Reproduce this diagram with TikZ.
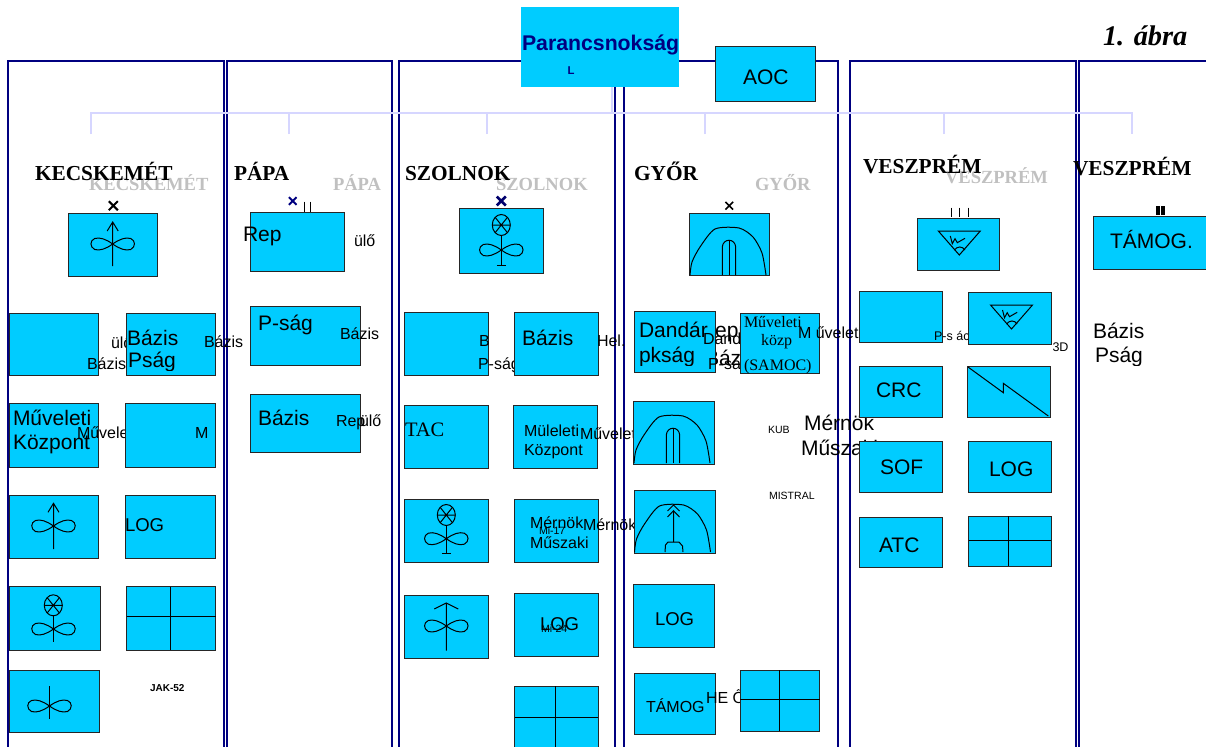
\documentclass[tikz,border=0pt]{standalone}
\usepackage{fontspec}
\setmainfont{Liberation Sans}
\newfontfamily\timesfont{Liberation Serif}
\definecolor{unitblue}{RGB}{0,204,255}
\definecolor{framenavy}{RGB}{0,0,128}
\definecolor{treelilac}{RGB}{214,214,255}
\definecolor{shadowgray}{RGB}{192,192,192}
\tikzset{every picture/.style={line width=0.75pt}}
\tikzset{
  unitbox/.style={draw=black!85,fill=unitblue},
  framebox/.style={draw=framenavy,line width=1.5pt},
  treeline/.style={draw=treelilac,line width=1pt},
  lbl/.style={anchor=base west,inner sep=0pt,outer sep=0pt},
  txtbig/.style={lbl,font=\fontsize{15.75}{15.75}\selectfont},
  txtlog/.style={lbl,font=\fontsize{13.9}{13.9}\selectfont},
  txtmid/.style={lbl,font=\fontsize{12}{12}\selectfont},
  txttiny/.style={lbl,font=\fontsize{9.4}{9.4}\selectfont},
  txtsmall/.style={lbl,font=\fontsize{7.9}{7.9}\selectfont},
  serifmid/.style={lbl,font=\timesfont\fontsize{12}{12}\selectfont},
  titlebold/.style={lbl,font=\timesfont\bfseries\fontsize{16}{16}\selectfont},
  titlegray/.style={lbl,text=shadowgray,font=\timesfont\bfseries\fontsize{13.9}{13.9}\selectfont},
  pics/blades/.style={code={
    \draw (0,0) .. controls (-7,5) and (-13,7) .. (-18,5.5) .. controls (-23,3.5) and (-23,-3) .. (-18,-5.5) .. controls (-13,-7) and (-7,-5) .. (0,0)
      .. controls (7,5) and (13,7) .. (18,5.5) .. controls (23,3.5) and (23,-3) .. (18,-5.5) .. controls (13,-7) and (7,-5) .. (0,0) ;
  }},
  pics/xcircle/.style={code={
    \draw (0,0) ellipse (9 and 10.5) ;
    \draw (-6,-7.5) -- (6,7.5) (6,-7.5) -- (-6,7.5) (-9,0) -- (9,0) ;
  }},
  pics/domeshell/.style={code={
    \draw plot[smooth,tension=0.45] coordinates {(-39,0) (-37,13) (-29,28) (-14,46) (10,47) (24,38) (33,22) (37,0)} ;
  }},
  pics/pillar/.style={code={
    \draw (-6.7,0) -- (-6.7,28) .. controls (-6,37) and (6,37) .. (6.7,28) -- (6.7,0) ;
    \draw (0,0) -- (0,35) ;
  }},
  pics/radar/.style={code={
    \draw (-21,0) -- (21,0) -- (0,-24) -- cycle ;
    \draw (-5,-19) .. controls (-2,-15) and (3,-15) .. (5.7,-19) ;
    \draw (-9,-5) -- (-7,-12.7) -- (-4.3,-7.7) -- (-2,-11.7) -- (5.7,-7.3) ;
  }},
  pics/xmark/.style={code={
    \draw (-4.5,-4.5) -- (4.5,4.5) (4.5,-4.5) -- (-4.5,4.5) ;
  }}
}

\begin{document}
\begin{tikzpicture}[x=0.75pt,y=0.75pt,yscale=-1,xscale=1]
\path[use as bounding box] (0,0) rectangle (1206,746);

%Frames
\draw [framebox] (8,760) -- (8,61) -- (224,61) -- (224,760) ;
\draw [framebox] (226.5,760) -- (226.5,61) -- (392,61) -- (392,760) ;
\draw [framebox] (399,760) -- (399,61) -- (614.5,61) -- (614.5,760) ;
\draw [framebox] (623.5,760) -- (623.5,61) -- (838,61) -- (838,760) ;
\draw [framebox] (850,760) -- (850,61) -- (1076,61) -- (1076,760) ;
\draw [framebox] (1079,760) -- (1079,61) -- (1220,61) ;

%Command tree
\coordinate (trunktop) at (612,87);
\coordinate (trunkfoot) at (612,113);
\coordinate (dropkec) at (91,134);
\coordinate (droppap) at (289,134);
\coordinate (dropszo) at (487,134);
\coordinate (dropgyo) at (705,134);
\coordinate (dropves) at (944,134);
\coordinate (dropsup) at (1132,134);
\draw [treeline] (trunktop) -- (trunkfoot) ;
\draw [treeline] (dropkec) -- (dropkec |- trunkfoot) -- (dropsup |- trunkfoot) -- (dropsup) ;
\draw [treeline] (droppap) -- (droppap |- trunkfoot) ;
\draw [treeline] (dropszo) -- (dropszo |- trunkfoot) ;
\draw [treeline] (dropgyo) -- (dropgyo |- trunkfoot) ;
\draw [treeline] (dropves) -- (dropves |- trunkfoot) ;

%Top boxes
\fill [unitblue] (521,7) rectangle (679,87) ;
\draw [unitbox] (715,46.5) rectangle (815,101.5) ;

% Text Node
\draw (522,50) node (cmdname) [lbl,text=framenavy,font=\bfseries\fontsize{15.95}{15.95}\selectfont] {Parancsnokság};
% Text Node
\draw (567.5,74) node (cmdrank) [lbl,text=framenavy,font=\bfseries\fontsize{8.5}{8.5}\selectfont] {L};
% Text Node
\draw (743,84) node (aocname) [txtbig] {AOC};
% Text Node
\draw (1103,45) node (figname) [lbl,font=\timesfont\bfseries\itshape\fontsize{21.3}{21.3}\selectfont] {1. ábra};

%Kecskemet column
\draw (89,190) node (kecgray) [titlegray] {KECSKEMÉT};
\draw (35,180) node (kectitle) [titlebold] {KECSKEMÉT};
\draw [line width=1.5pt] (113.3,205.7) pic {xmark} ;
\draw [unitbox] (68,213) rectangle (157,276) ;
\draw (112.7,244) pic {blades} ;
\draw (112.7,222) -- (112.7,266) (107.2,231) -- (112.7,222) -- (118.2,231) ;

\draw [unitbox] (9,313.3) rectangle (98,375) ;
\draw [unitbox] (9,403) rectangle (98,467) ;
\draw (111,348) node (kecpilot) [txtmid] {ülő};
\draw (87,369) node (kecbase) [txtmid] {Bázis};
\draw (77,438) node (kecops) [txtmid] {Műveleti};
\draw [unitbox] (126.5,313.3) rectangle (215.5,375) ;
\draw [unitbox] (125.5,403) rectangle (215.5,467) ;
\draw (127,345) node (kecbasebig) [txtbig] {Bázis};
\begin{scope}
\clip (120,350) rectangle (200,370);
\draw (128,367) node (kecsqd) [txtbig] {Pság};
\end{scope}
\draw (204,347) node (kecbaseb) [txtmid] {Bázis};
\draw (13,425) node (kecopsa) [txtbig] {Műveleti};
\draw (13,449) node (kecopsb) [txtbig] {Központ};
\draw (195,438) node (kecmm) [txtmid] {M};

\draw [unitbox] (9,495) rectangle (98,558) ;
\draw (53.5,526) pic {blades} ;
\draw (53.5,503.3) -- (53.5,549) (48,512.3) -- (53.5,503.3) -- (59,512.3) ;
\draw [unitbox] (125.5,495) rectangle (215.5,558) ;
\draw (125,531) node (keclog) [txtlog] {LOG};

\draw [unitbox] (9,586.5) rectangle (100.5,650) ;
\draw (53.3,605.3) pic {xcircle} ;
\draw (53.3,615) -- (53.3,642) ;
\draw (53.5,629) pic {blades} ;
\draw [unitbox] (126.5,586.5) rectangle (215.5,650) ;
\draw (170,586.5) -- (170,650) (126.5,616.5) -- (215.5,616.5) ;

\draw [unitbox] (9,670.5) rectangle (99,732) ;
\draw (49.5,706) pic {blades} ;
\draw (49.5,686) -- (49.5,719) ;
\draw (150,691) node (kecjak) [lbl,font=\bfseries\fontsize{7.5}{7.5}\selectfont] {JAK-52};

%Papa column
\draw (333,190) node (papgray) [titlegray] {PÁPA};
\draw (234,180) node (paptitle) [titlebold] {PÁPA};
\draw [draw=framenavy,line width=1.5pt] (292.7,201) pic[scale=0.85] {xmark} ;
\draw (304,201.7) -- (304,212) (310,201.7) -- (310,212) ;
\draw [unitbox] (250.5,212.5) rectangle (344,271.5) ;
\draw (243,241) node (paprep) [txtbig] {Rep};
\draw (354,246) node (pappilot) [txtmid] {ülő};
\draw [unitbox] (250.5,306.5) rectangle (360,365.5) ;
\draw (258,330) node (papsqd) [txtbig] {P-ság};
\draw (340,339) node (papbase) [txtmid] {Bázis};
\draw [unitbox] (250.5,394) rectangle (360,452.5) ;
\draw (258,425) node (papbasebig) [txtbig] {Bázis};
\draw (336,426) node (paprepb) [txtmid] {Rep};
\draw (360,426) node (pappilotb) [txtmid] {ülő};

%Szolnok column
\draw (496,190) node (szogray) [titlegray] {SZOLNOK};
\draw (405,180) node (szotitle) [titlebold] {SZOLNOK};
\draw [draw=framenavy!85!black,line width=2pt] (501.3,201) pic {xmark} ;
\draw [unitbox] (459,208.5) rectangle (543.5,273.5) ;
\draw (501.3,225) pic {xcircle} ;
\draw (501.3,235.5) -- (501.3,265) (496.8,265) -- (505.8,265) ;
\draw (501.3,250) pic {blades} ;

\draw [unitbox] (404.5,312) rectangle (488,375) ;
\draw (479,346) node (szob) [txtmid] {B};
\draw (478,369) node (szosqd) [txtmid] {P-ság};
\draw [unitbox] (514.5,312) rectangle (598,375) ;
\draw (522,345) node (szobase) [txtbig] {Bázis};
\draw (597,346) node (szohel) [txtmid] {Hel.};

\draw [unitbox] (404.5,405) rectangle (488,468) ;
\draw (405,436) node (szotac) [lbl,font=\timesfont\fontsize{15.4}{15.4}\selectfont] {TAC};
\draw [unitbox] (513.5,405) rectangle (597,468) ;
\draw (524,436) node (szoopsa) [txtmid] {Müleleti};
\draw (524,455) node (szoopsb) [txtmid] {Központ};
\draw (580,439) node (szoops) [txtmid] {Műveleti};

\draw [unitbox] (404.5,499) rectangle (488,562) ;
\draw (446.3,515) pic {xcircle} ;
\draw (446.3,525.5) -- (446.3,553.3) (441.8,553.3) -- (450.8,553.3) ;
\draw (446.3,538.7) pic {blades} ;
\draw [unitbox] (514.5,499) rectangle (598,562) ;
\draw (539,534) node (szomi) [txtsmall] {Mi-17};
\draw (530,528) node (szoenga) [txtmid] {Mérnök};
\draw (530,548) node (szoengb) [txtmid] {Műszaki};
\draw (583,530) node (szoeng) [txtmid] {Mérnök};

\draw [unitbox] (404.5,595) rectangle (488,658) ;
\draw (446.3,626) pic {blades} ;
\draw (446.3,603) -- (446.3,650.7) (434.3,609) -- (446.3,603) -- (458.3,609) ;
\draw [unitbox] (514.5,593) rectangle (598,656.5) ;
\draw (540,630) node (szolog) [txtlog] {LOG};
\draw (541,632) node (szomib) [txtsmall] {Mi-24};

\draw [unitbox] (514.5,686) rectangle (598,760) ;
\draw (555,686) -- (555,760) (514.5,717) -- (598,717) ;

%Gyor column
\draw (755,190) node (gyogray) [titlegray] {GYŐR};
\draw (634,180) node (gyotitle) [titlebold] {GYŐR};
\draw [line width=1.2pt] (729.3,205.7) pic[scale=0.85] {xmark} ;
\draw [unitbox] (689,213) rectangle (769.5,275.5) ;
\draw (729,275) pic {domeshell} ;
\draw (729,275) pic {pillar} ;

\draw (700,337) node (gyorep) [txtbig] {Repülő};
\draw (705,365) node (gyobase) [txtbig] {Bázis};
\draw [unitbox] (634,311) rectangle (715,372) ;
\draw (639,337) node (gyobdea) [txtbig] {Dandár};
\begin{scope}
\clip (630,345) rectangle (715,365);
\draw (639,362) node (gyobdeb) [txtbig] {pkság};
\end{scope}
\draw (703,344) node (gyobde) [txtmid] {Dandár};
\draw (708,369) node (gyosqd) [txtmid] {P-ság};
\draw (804,430) node (gyoenga) [txtbig] {Mérnök};
\draw (801,455) node (gyoengb) [txtbig] {Műszaki};
\draw [unitbox] (740,313) rectangle (819.5,373) ;
\draw (744,327) node (gyosama) [serifmid] {Műveleti};
\draw (761,345) node (gyosamb) [serifmid] {közp};
\draw (744,370) node (gyosamc) [serifmid] {(SAMOC)};
\draw (798,338) node (gyoops) [txtmid] {M űveleti};

\draw [unitbox] (633,401) rectangle (714,464) ;
\draw (673,463) pic {domeshell} ;
\draw (673,463) pic {pillar} ;
\draw (768,433) node (gyokub) [txtsmall] {KUB};

\draw [unitbox] (634,490) rectangle (715,553) ;
\draw (673.5,552) pic {domeshell} ;
\draw (673.5,542) -- (673.5,510.7) (667.5,517) -- (673.5,510.7) -- (679.5,517) (667.5,511) -- (673.5,505) -- (679.5,511) ;
\draw (665,552) -- (665.5,545) -- (668,542) -- (679,542) -- (682.5,546) -- (683,552) ;
\draw (769,499) node (gyomis) [txtsmall] {MISTRAL};

\draw [unitbox] (633,584.5) rectangle (714,647) ;
\draw (655,625) node (gyolog) [txtlog] {LOG};

\draw [unitbox] (634,673.5) rectangle (715,734) ;
\draw (646,712) node (gyotam) [txtmid] {TÁMOG};
\draw (706,703) node (gyohe) [txtmid] {HE Ő};
\draw [unitbox] (740,670) rectangle (819.5,731) ;
\draw (779,670) -- (779,731) (740,699.5) -- (819.5,699.5) ;

%Veszprem column
\draw (945,183) node (vesgray) [titlegray] {VESZPRÉM};
\draw (863,173) node (vestitle) [titlebold] {VESZPRÉM};
\draw (951,207.7) -- (951,216.7) (959.3,207.7) -- (959.3,216.7) (968,207.7) -- (968,216.7) ;
\draw [unitbox] (917,218.5) rectangle (999.5,270.5) ;
\draw (959.3,231) pic {radar} ;

\draw [unitbox] (859,291.5) rectangle (942.5,342) ;
\draw (934,340) node (vessqd) [txttiny] {P-s ác};
\draw [unitbox] (968.5,292.5) rectangle (1051,344.5) ;
\draw (1011.5,305) pic {radar} ;
\draw (1052.5,351) node (ves3d) [txttiny] {3D};

\draw [unitbox] (859,366) rectangle (942.5,417.5) ;
\draw (876,397) node (vescrc) [txtbig] {CRC};
\draw [unitbox] (967.5,366) rectangle (1050,417.5) ;
\draw (968,367) -- (1003.3,392.7) -- (1003.3,383.3) -- (1048.3,416) ;

\draw [unitbox] (859,441.5) rectangle (942.5,492.5) ;
\draw (880,474) node (vessof) [txtbig] {SOF};
\draw [unitbox] (968.5,441.5) rectangle (1051,492.5) ;
\draw (989,476) node (veslog) [txtbig] {LOG};

\draw [unitbox] (859,517) rectangle (942.5,567.5) ;
\draw (879,552) node (vesatc) [txtbig] {ATC};
\draw [unitbox] (968.5,516) rectangle (1051,566) ;
\draw (1008.5,516) -- (1008.5,566) (968.5,540.5) -- (1051,540.5) ;

%Veszprem support column
\draw (1073,175) node (suptitle) [titlebold] {VESZPRÉM};
\draw [line width=3pt] (1158,206) -- (1158,215) (1163,206) -- (1163,215) ;
\draw [unitbox] (1093.5,216.5) rectangle (1220,269) ;
\draw (1110,248) node (suptam) [txtbig] {TÁMOG.};
\draw (1093,338) node (supbase) [txtbig] {Bázis};
\begin{scope}
\clip (1090,345) rectangle (1150,365);
\draw (1095,362) node (supsqd) [txtbig] {Pság};
\end{scope}

\end{tikzpicture}
\end{document}
